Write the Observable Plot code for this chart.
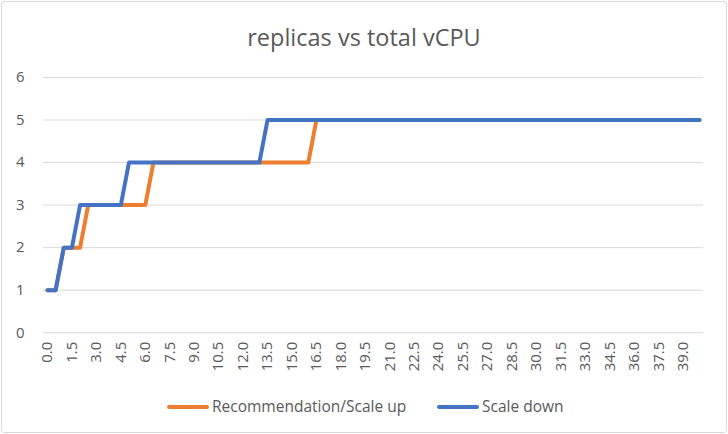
<!DOCTYPE html>
<html>
<head>
<meta charset="utf-8">
<script src="https://cdn.jsdelivr.net/npm/d3@7"></script>
<script src="https://cdn.jsdelivr.net/npm/@observablehq/plot@0.6"></script>
<style>
  html, body { margin: 0; padding: 0; background: #fff; }
  #chart {
    position: relative; width: 724px; height: 430px; margin: 1px;
    border: 1px solid #d9d9d9; border-radius: 3px; overflow: hidden;
    font-family: "Open Sans", sans-serif; color: #595959;
  }
  #title { position: absolute; left: 0; top: 19px; width: 100%; text-align: center; font-size: 23.5px; line-height: 32px; }
  #plot { position: absolute; left: -2px; top: 59px; }
  #legend { position: absolute; left: 0; top: 393px; width: 100%; font-size: 15.5px; line-height: 22px; }
  .lg { position: absolute; top: 0; white-space: nowrap; }
  .sw { display: inline-block; width: 42px; height: 4px; border-radius: 2px; vertical-align: middle; margin-right: 3px; position: relative; top: -1px; }
</style>
</head>
<body>
<div id="chart">
  <div id="title">replicas vs total vCPU</div>
  <div id="plot"></div>
  <div id="legend"></div>
</div>
<script>
const categories = [
  "0.0","0.5","1.0","1.5","2.0","2.5","3.0","3.5","4.0","4.5",
  "5.0","5.5","6.0","6.5","7.0","7.5","8.0","8.5","9.0","9.5",
  "10.0","10.5","11.0","11.5","12.0","12.5","13.0","13.5","14.0","14.5",
  "15.0","15.5","16.0","16.5","17.0","17.5","18.0","18.5","19.0","19.5",
  "20.0","20.5","21.0","21.5","22.0","22.5","23.0","23.5","24.0","24.5",
  "25.0","25.5","26.0","26.5","27.0","27.5","28.0","28.5","29.0","29.5",
  "30.0","30.5","31.0","31.5","32.0","32.5","33.0","33.5","34.0","34.5",
  "35.0","35.5","36.0","36.5","37.0","37.5","38.0","38.5","39.0","39.5",
  "40.0"
];
const scaleUp = [
  1,1,2,2,2,3,3,3,3,3,
  3,3,3,4,4,4,4,4,4,4,
  4,4,4,4,4,4,4,4,4,4,
  4,4,4,5,5,5,5,5,5,5,
  5,5,5,5,5,5,5,5,5,5,
  5,5,5,5,5,5,5,5,5,5,
  5,5,5,5,5,5,5,5,5,5,
  5,5,5,5,5,5,5,5,5,5,
  5
];
const scaleDown = [
  1,1,2,2,3,3,3,3,3,3,
  4,4,4,4,4,4,4,4,4,4,
  4,4,4,4,4,4,4,5,5,5,
  5,5,5,5,5,5,5,5,5,5,
  5,5,5,5,5,5,5,5,5,5,
  5,5,5,5,5,5,5,5,5,5,
  5,5,5,5,5,5,5,5,5,5,
  5,5,5,5,5,5,5,5,5,5,
  5
];
const xTickLabels = ["0.0","1.5","3.0","4.5","6.0","7.5","9.0","10.5","12.0","13.5","15.0","16.5","18.0","19.5","21.0","22.5","24.0","25.5","27.0","28.5","30.0","31.5","33.0","34.5","36.0","37.5","39.0"];
const yTicks = [0,1,2,3,4,5,6];
const seriesNames = ["Recommendation/Scale up", "Scale down"];
const colors = ["#ED7D31", "#4472C4"];

const up = categories.map((c, i) => ({x: +c, y: scaleUp[i]}));
const down = categories.map((c, i) => ({x: +c, y: scaleDown[i]}));

const plot = Plot.plot({
  width: 728,
  height: 330,
  marginLeft: 43,
  marginRight: 23,
  marginTop: 16,
  marginBottom: 58,
  style: {fontFamily: "Open Sans, sans-serif", color: "#595959", background: "transparent"},
  x: {domain: [-0.25, 40.25]},
  y: {domain: [0, 6]},
  marks: [
    Plot.gridY(yTicks, {stroke: "#d9d9d9", strokeOpacity: 1, strokeWidth: 1}),
    Plot.axisY(yTicks, {tickSize: 0, tickPadding: 19, fontSize: 15, label: null, fill: "#595959"}),
    Plot.axisX(xTickLabels.map(Number), {tickSize: 0, tickPadding: 9, tickRotate: -90, fontSize: 15, label: null, fill: "#595959", tickFormat: d => d3.format(".1f")(d)}),
    Plot.line(up, {x: "x", y: "y", stroke: colors[0], strokeWidth: 4, strokeLinejoin: "round", strokeLinecap: "round"}),
    Plot.line(down, {x: "x", y: "y", stroke: colors[1], strokeWidth: 4, strokeLinejoin: "round", strokeLinecap: "round"})
  ]
});
document.getElementById("plot").appendChild(plot);

const legend = document.getElementById("legend");
const lefts = [165, 435];
seriesNames.forEach((n, i) => {
  const d = document.createElement("div");
  d.className = "lg";
  d.style.left = lefts[i] + "px";
  d.innerHTML = `<span class="sw" style="background:${colors[i]}"></span>${n}`;
  legend.appendChild(d);
});
</script>
</body>
</html>
